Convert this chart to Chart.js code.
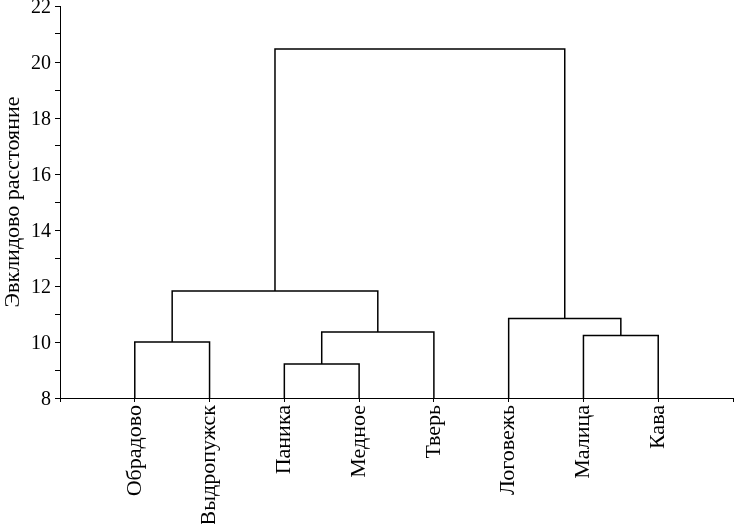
<!DOCTYPE html>
<html>
<head>
<meta charset="utf-8">
<title>Дендрограмма</title>
<script src="https://cdn.jsdelivr.net/npm/chart.js@4/dist/chart.umd.min.js"></script>
<style>
  html, body { margin: 0; padding: 0; background: #fff; }
  #wrap { width: 734px; height: 524px; }
</style>
</head>
<body>
<div id="wrap"><canvas id="dendro"></canvas></div>
<script>
// leaves, left to right
const leafNames = ["Обрадово", "Выдропужск", "Паника", "Медное", "Тверь", "Логовежь", "Малица", "Кава"];

// merge steps: node ids 0..7 are leaves, 8+ are clusters in order of creation
const mergeLeft   = [2, 0, 6, 8, 5, 9, 13];
const mergeRight  = [3, 1, 7, 4, 10, 11, 12];
const mergeHeight = [9.21, 10.0, 10.23, 10.36, 10.84, 11.82, 20.46];

const yTicksMin = 8;
const yTicksMax = 22;

function buildLinks() {
    const nodeX = [];
    const nodeY = [];
    leafNames.forEach((name, i) => {
        nodeX.push(i + 1);
        nodeY.push(yTicksMin);
    });

    const sets = [];
    mergeHeight.forEach((h, i) => {
        const a = mergeLeft[i];
        const b = mergeRight[i];
        sets.push({
            data: [
                { x: nodeX[a], y: nodeY[a] },
                { x: nodeX[a], y: h },
                { x: nodeX[b], y: h },
                { x: nodeX[b], y: nodeY[b] }
            ],
            showLine: true,
            borderColor: "#000",
            borderWidth: 1.5,
            borderJoinStyle: "miter",
            pointRadius: 0,
            tension: 0
        });
        nodeX.push((nodeX[a] + nodeX[b]) / 2);
        nodeY.push(h);
    });
    return sets;
}

const serif = "'Liberation Serif', 'Times New Roman', serif";

new Chart(document.getElementById("dendro"), {
    type: "scatter",
    data: { datasets: buildLinks() },
    options: {
        responsive: true,
        maintainAspectRatio: false,
        animation: false,
        layout: { padding: { top: 6, right: 1, left: 0, bottom: 0 } },
        plugins: {
            legend: { display: false },
            tooltip: { enabled: false }
        },
        scales: {
            x: {
                type: "linear",
                min: 0,
                max: leafNames.length + 1,
                afterFit: function (scale) {
                    scale.height = 126;
                    scale.paddingLeft = 0;
                    scale.paddingRight = 0;
                },
                border: { display: true, color: "#000", width: 1 },
                grid: { drawOnChartArea: false, tickLength: 4, color: "#000" },
                ticks: {
                    stepSize: 1,
                    autoSkip: false,
                    minRotation: 90,
                    maxRotation: 90,
                    padding: 3,
                    color: "#000",
                    font: { family: serif, size: 22 },
                    callback: function (v) { return leafNames[v - 1] || ""; }
                }
            },
            y: {
                min: yTicksMin,
                max: yTicksMax,
                afterFit: function (scale) {
                    scale.width = 60;
                    scale.paddingTop = 0;
                    scale.paddingBottom = 0;
                },
                border: { display: true, color: "#000", width: 1 },
                grid: { drawOnChartArea: false, tickLength: 5, color: "#000" },
                ticks: {
                    stepSize: 1,
                    padding: 4,
                    color: "#000",
                    // two-line label with a tiny line height nudges the digits down a bit
                    font: { family: serif, size: 20, lineHeight: 0.2 },
                    callback: function (v) { return v % 2 === 0 ? ["", String(v)] : ""; }
                },
                title: {
                    display: true,
                    text: "Эвклидово расстояние",
                    color: "#000",
                    padding: 0,
                    font: { family: serif, size: 22 }
                }
            }
        }
    }
});
</script>
</body>
</html>
